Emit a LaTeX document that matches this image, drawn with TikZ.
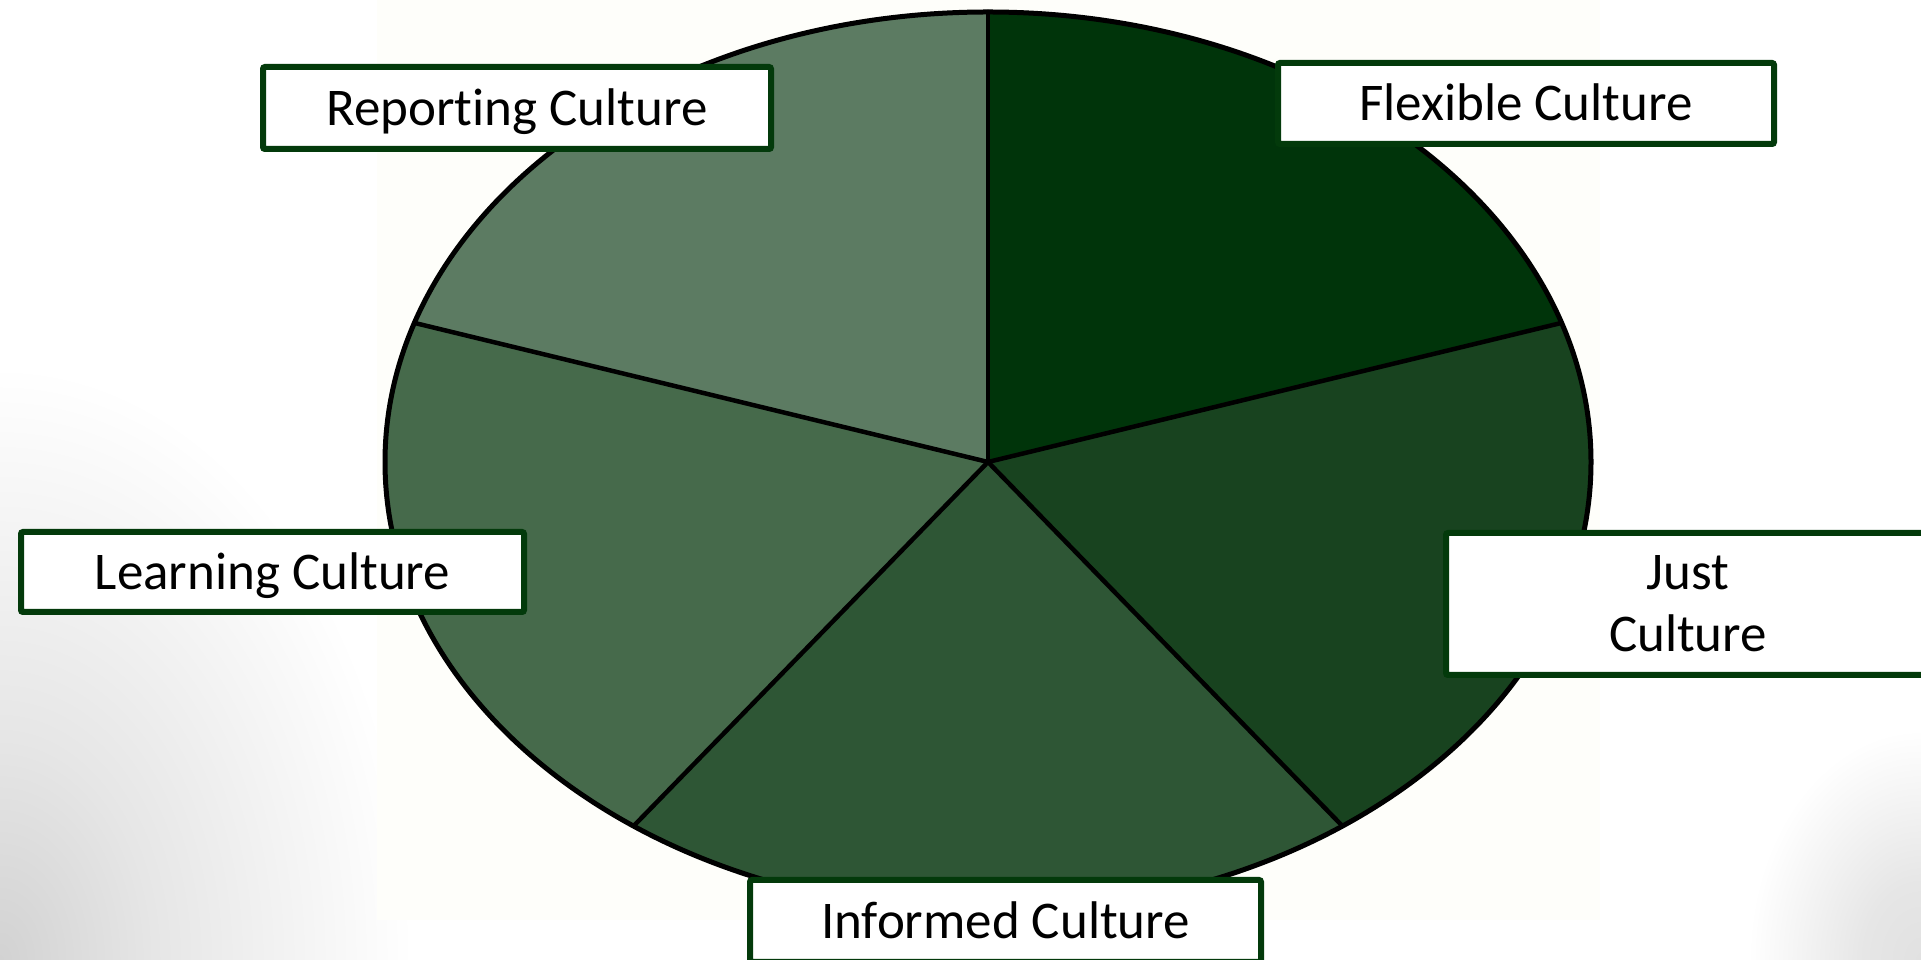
\documentclass[tikz,border=0pt]{standalone}
\usepackage{fontspec}
\setmainfont{Carlito}[Ligatures=NoCommon]
\definecolor{flexc}{RGB}{0,52,10}
\definecolor{justc}{RGB}{24,67,31}
\definecolor{infc}{RGB}{46,86,53}
\definecolor{learnc}{RGB}{70,106,75}
\definecolor{repc}{RGB}{92,123,98}
\definecolor{boxgreen}{RGB}{3,58,11}
\definecolor{cream}{RGB}{254,254,250}
\definecolor{vig0}{RGB}{210,210,210}
\definecolor{vig1}{RGB}{230,230,230}
\definecolor{vig2}{RGB}{225,225,225}
\pgfdeclareradialshading{vig}{\pgfpoint{0bp}{0bp}}{color(0bp)=(vig0); color(9bp)=(vig1); color(24bp)=(white); color(50bp)=(white)}
\pgfdeclareradialshading{vigb}{\pgfpoint{0bp}{0bp}}{color(0bp)=(vig2); color(8bp)=(vig1); color(24bp)=(white); color(50bp)=(white)}
\begin{document}
\begin{tikzpicture}[x=1pt,y=1pt,
  lbl/.style={draw=boxgreen, line width=6pt, fill=white, rounded corners=2pt,
    inner sep=0pt, align=center, font=\fontsize{53}{62}\selectfont},
  oneline/.style={text height=40pt, text depth=5pt},
  spoke/.style={line width=4.5pt, line cap=round, draw=black},
  rim/.style={line width=5pt, draw=black}]
\useasboundingbox (0,0) rectangle (1921,960);
\fill[white] (0,0) rectangle (1921,960);
\begin{scope}
  \clip (0,0) rectangle (1921,960);
  \shade[shading=vig] (0,0) ellipse[x radius=430, y radius=620];
  \shade[shading=vigb] (1921,0) ellipse[x radius=180, y radius=240];
\end{scope}
\fill[cream] (377,40) rectangle (1600,960);
% pie
\coordinate (C) at (988,498);
\coordinate (p90) at ({988+603*cos(90)},{498+450*sin(90)});
\coordinate (p18) at ({988+603*cos(18)},{498+450*sin(18)});
\coordinate (pm54) at ({988+603*cos(-54)},{498+450*sin(-54)});
\coordinate (pm126) at ({988+603*cos(-126)},{498+450*sin(-126)});
\coordinate (p162) at ({988+603*cos(162)},{498+450*sin(162)});
\fill[flexc] (C) -- (p18) arc[start angle=18, end angle=90, x radius=603, y radius=450] -- cycle;
\fill[justc] (C) -- (pm54) arc[start angle=-54, end angle=18, x radius=603, y radius=450] -- cycle;
\fill[infc] (C) -- (pm126) arc[start angle=-126, end angle=-54, x radius=603, y radius=450] -- cycle;
\fill[learnc] (C) -- (p162) arc[start angle=162, end angle=234, x radius=603, y radius=450] -- cycle;
\fill[repc] (C) -- (p90) arc[start angle=90, end angle=162, x radius=603, y radius=450] -- cycle;
\draw[spoke] (C) -- (p90);
\draw[spoke] (C) -- (p18);
\draw[spoke] (C) -- (pm54);
\draw[spoke] (C) -- (pm126);
\draw[spoke] (C) -- (p162);
\draw[rim] (C) ellipse[x radius=603, y radius=450];
% labels
\node[lbl, oneline, minimum width=508pt, minimum height=82pt] (rep) at (517,852) {Reporting Culture};
\node[lbl, oneline, minimum width=496pt, minimum height=81pt] (flex) at (1526,856.5) {Flexible Culture};
\node[lbl, oneline, minimum width=503pt, minimum height=80pt] (learn) at (272.5,388) {Learning Culture};
\node[lbl, minimum width=484pt, minimum height=142pt] (just) at (1688,356) {Just\\Culture};
\node[lbl, oneline, minimum width=511pt, minimum height=82pt] (inf) at (1005.5,39) {Informed Culture};
\end{tikzpicture}
\end{document}
